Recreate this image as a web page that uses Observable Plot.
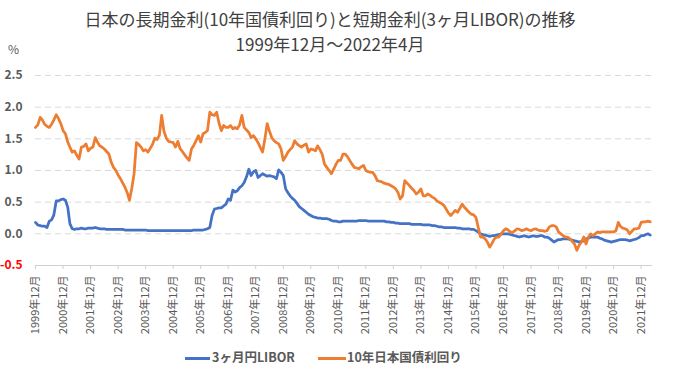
<!DOCTYPE html>
<html><head><meta charset="utf-8">
<script src="https://cdn.jsdelivr.net/npm/d3@7"></script>
<script src="https://cdn.jsdelivr.net/npm/@observablehq/plot@0.6"></script>
<style>
body{margin:0;background:#fff;}
#wrap{position:relative;width:673px;height:379px;overflow:hidden;font-family:"Noto Sans CJK JP",sans-serif;background:#fff;}
.t{position:absolute;left:0;width:660px;text-align:center;color:#404040;font-size:17px;white-space:nowrap;line-height:1;}
.pct{position:absolute;left:8px;top:40px;font-size:12px;color:#595959;}
.sw{position:absolute;height:3px;top:357px;}
.lt{position:absolute;top:351px;font-size:12.5px;font-weight:bold;color:#595959;white-space:nowrap;line-height:1;}
#chart{position:absolute;left:0;top:0;}
</style></head>
<body><div id="wrap">
<div class="t" style="top:10px">日本の長期金利(10年国債利回り)と短期金利(3ヶ月LIBOR)の推移</div>
<div class="t" style="top:35px">1999年12月〜2022年4月</div>
<div class="pct">%</div>
<div id="chart"></div>
<div class="sw" style="left:185px;width:25px;background:#4472C4"></div>
<div class="lt" style="left:212px">3ヶ月円LIBOR</div>
<div class="sw" style="left:318px;width:28px;background:#ED7D31"></div>
<div class="lt" style="left:347px">10年日本国債利回り</div>
</div>
<script>
// Monthly values from 1999-12 to 2022-04
const startYear = 1999, startMonth = 11;
const jgb = [1.68,
 1.72,1.84,1.80,1.73,1.70,1.68,1.73,1.80,1.88,1.82,1.74,1.63,
 1.58,1.45,1.37,1.29,1.31,1.24,1.18,1.37,1.38,1.42,1.31,1.35,
 1.37,1.52,1.45,1.39,1.37,1.34,1.30,1.26,1.13,1.05,1.00,0.93,
 0.87,0.80,0.74,0.65,0.53,0.72,0.95,1.44,1.41,1.37,1.31,1.33,
 1.29,1.35,1.41,1.51,1.49,1.56,1.87,1.62,1.51,1.46,1.45,1.44,
 1.37,1.46,1.35,1.30,1.25,1.20,1.16,1.34,1.40,1.47,1.55,1.45,
 1.58,1.60,1.63,1.92,1.88,1.87,1.92,1.75,1.63,1.71,1.68,1.68,
 1.71,1.66,1.68,1.66,1.72,1.87,1.68,1.64,1.60,1.52,1.55,1.50,
 1.44,1.36,1.29,1.50,1.74,1.62,1.52,1.47,1.44,1.42,1.34,1.16,
 1.22,1.29,1.33,1.37,1.47,1.42,1.39,1.37,1.40,1.42,1.29,1.34,
 1.33,1.31,1.39,1.33,1.26,1.10,1.05,1.00,0.95,1.02,1.10,1.16,
 1.16,1.26,1.26,1.22,1.16,1.10,1.05,1.04,1.03,1.06,1.08,1.00,
 0.98,0.97,0.97,0.92,0.84,0.83,0.82,0.80,0.79,0.78,0.76,0.74,
 0.71,0.65,0.55,0.60,0.84,0.80,0.76,0.72,0.68,0.63,0.66,0.71,
 0.60,0.60,0.63,0.61,0.58,0.56,0.52,0.50,0.48,0.45,0.39,0.33,
 0.29,0.33,0.37,0.34,0.40,0.47,0.42,0.38,0.34,0.31,0.30,0.26,
 0.10,-0.05,-0.05,-0.08,-0.13,-0.21,-0.15,-0.08,-0.05,-0.05,0.00,0.05,
 0.08,0.06,0.03,0.02,0.05,0.08,0.07,0.05,0.06,0.08,0.06,0.05,
 0.07,0.08,0.06,0.05,0.05,0.04,0.05,0.11,0.13,0.13,0.11,0.03,
 0.00,-0.03,-0.05,-0.05,-0.08,-0.12,-0.16,-0.26,-0.18,-0.13,-0.05,-0.16,
 -0.05,0.00,-0.03,0.00,0.03,0.02,0.03,0.03,0.03,0.03,0.03,0.03,
 0.05,0.18,0.12,0.09,0.08,0.06,0.00,0.04,0.08,0.08,0.09,0.18,
 0.19,0.19,0.20,0.19];
const libor = [0.18,
 0.14,0.13,0.12,0.12,0.10,0.20,0.22,0.30,0.52,0.52,0.54,0.55,
 0.53,0.42,0.16,0.08,0.07,0.08,0.08,0.09,0.08,0.08,0.09,0.09,
 0.09,0.10,0.09,0.08,0.08,0.08,0.07,0.07,0.07,0.07,0.07,0.07,
 0.07,0.07,0.06,0.06,0.06,0.06,0.06,0.06,0.06,0.06,0.06,0.06,
 0.05,0.05,0.05,0.05,0.05,0.05,0.05,0.05,0.05,0.05,0.05,0.05,
 0.05,0.05,0.05,0.05,0.05,0.05,0.05,0.05,0.06,0.06,0.06,0.06,
 0.06,0.07,0.08,0.10,0.29,0.39,0.40,0.41,0.41,0.44,0.47,0.55,
 0.53,0.69,0.66,0.68,0.73,0.76,0.81,0.90,1.02,0.92,0.98,1.00,
 0.89,0.92,0.95,0.93,0.91,0.92,0.91,0.90,0.87,1.01,0.97,0.92,
 0.71,0.65,0.60,0.56,0.53,0.48,0.43,0.40,0.37,0.34,0.31,0.29,
 0.27,0.26,0.25,0.25,0.24,0.24,0.24,0.23,0.21,0.20,0.20,0.19,
 0.19,0.20,0.20,0.20,0.20,0.20,0.20,0.20,0.21,0.21,0.21,0.21,
 0.20,0.20,0.20,0.20,0.20,0.20,0.20,0.20,0.19,0.19,0.18,0.18,
 0.17,0.17,0.16,0.16,0.16,0.16,0.16,0.15,0.15,0.15,0.15,0.15,
 0.14,0.14,0.14,0.14,0.13,0.13,0.12,0.11,0.11,0.10,0.10,0.10,
 0.10,0.10,0.10,0.09,0.09,0.08,0.08,0.08,0.08,0.07,0.07,0.05,
 0.03,0.00,-0.01,-0.02,-0.03,-0.04,-0.03,-0.03,-0.02,-0.01,0.00,0.00,
 0.00,0.00,-0.01,-0.02,-0.03,-0.04,-0.05,-0.04,-0.03,-0.04,-0.05,-0.04,
 -0.03,-0.04,-0.04,-0.03,-0.03,-0.05,-0.05,-0.07,-0.10,-0.13,-0.11,-0.09,
 -0.09,-0.08,-0.08,-0.08,-0.09,-0.10,-0.11,-0.12,-0.13,-0.12,-0.11,-0.08,
 -0.07,-0.05,-0.05,-0.05,-0.05,-0.07,-0.08,-0.10,-0.11,-0.12,-0.13,-0.12,
 -0.11,-0.10,-0.09,-0.09,-0.09,-0.10,-0.11,-0.10,-0.09,-0.08,-0.06,-0.03,
 -0.03,-0.01,0.00,-0.02];
const tickYears = d3.range(1999, 2022);
const yTicks = [0, 0.5, 1.0, 1.5, 2.0, 2.5];
const yNeg = [-0.5];

const dates = jgb.map((_, i) => new Date(Date.UTC(startYear, startMonth + i, 1)));
const tickDates = tickYears.map(y => new Date(Date.UTC(y, 11, 1)));

const chart = Plot.plot({
  width: 673, height: 379,
  marginLeft: 35, marginRight: 21, marginTop: 75, marginBottom: 114,
  style: {fontFamily: "'Noto Sans CJK JP', sans-serif", background: "transparent"},
  x: {type: "utc", domain: [new Date(Date.UTC(1999, 11, 1)), new Date(Date.UTC(2022, 4, 1))]},
  y: {domain: [-0.5, 2.5]},
  marks: [
    Plot.ruleY(yTicks, {stroke: "#d9d9d9", strokeWidth: 1, strokeDasharray: "6,4", x1: dates[0], x2: new Date(Date.UTC(2022, 4, 1))}),
    Plot.ruleY(yNeg, {stroke: "#d0d0d0", strokeWidth: 1}),
    Plot.axisX(tickDates, {tickFormat: d => `${d.getUTCFullYear()}年12月`, tickRotate: -90, tickSize: 4, tickPadding: 6, stroke: "#d0d0d0", fill: "#595959", fontSize: 11, label: null}),
    Plot.axisY(yTicks, {tickFormat: d => d.toFixed(1), tickSize: 0, tickPadding: 13, fill: "#595959", fontSize: 12, fontWeight: "bold", label: null}),
    Plot.axisY(yNeg, {tickFormat: d => d.toFixed(1), tickSize: 0, tickPadding: 13, fill: "#ff0000", fontSize: 12, fontWeight: "bold", label: null}),
    Plot.lineY(libor, {x: dates, stroke: "#4472C4", strokeWidth: 2.75}),
    Plot.lineY(jgb, {x: dates, stroke: "#ED7D31", strokeWidth: 2.75})
  ]
});
document.getElementById("chart").appendChild(chart);
</script>
</body></html>
